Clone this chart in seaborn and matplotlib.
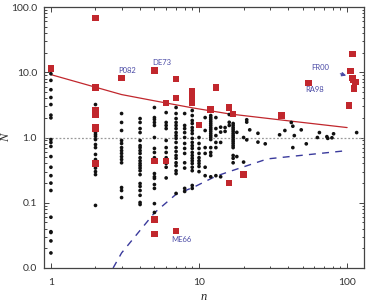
import numpy as np
import pandas as pd
import matplotlib
matplotlib.use("Agg")
import matplotlib.pyplot as plt
import seaborn as sns
from matplotlib.ticker import LogLocator, FuncFormatter, NullFormatter

# black dots, grouped by n
col_n = [1, 2, 3, 4, 5, 6, 7, 8, 9, 10, 11, 12, 13, 14, 15, 16, 17, 18, 20, 21,
         22, 25, 28, 35, 38, 42, 43, 44, 49, 53, 63, 65, 73, 74, 79, 81, 116]
col_z = [
    [9.5, 7.5, 5.4, 4.1, 3.2, 2.2, 2.0, 0.93, 0.84, 0.73, 0.51, 0.35, 0.26, 0.20,
     0.154, 0.060, 0.036, 0.035, 0.026, 0.017],
    [5.8, 3.2, 2.33, 1.19, 1.11, 1.04, 0.93, 0.78, 0.70, 0.55, 0.46, 0.34, 0.30,
     0.27, 0.091],
    [2.33, 1.70, 1.28, 0.90, 0.81, 0.70, 0.63, 0.57, 0.51, 0.46, 0.41, 0.171,
     0.154, 0.12],
    [1.95, 1.70, 1.37, 1.19, 0.90, 0.75, 0.70, 0.63, 0.57, 0.49, 0.44, 0.40, 0.37,
     0.34, 0.31, 0.27, 0.197, 0.178, 0.154, 0.13, 0.101, 0.094],
    [2.88, 2.02, 1.89, 1.70, 1.53, 1.0, 0.68, 0.59, 0.49, 0.28, 0.25, 0.236, 0.19,
     0.166, 0.097, 0.071],
    [2.41, 1.70, 1.53, 1.37, 0.90, 0.70, 0.59, 0.49, 0.40, 0.35, 0.24],
    [2.88, 2.33, 1.95, 1.70, 1.53, 1.37, 1.19, 1.07, 0.97, 0.84, 0.70, 0.61, 0.53,
     0.48, 0.41, 0.37, 0.31, 0.28, 0.139],
    [2.33, 1.53, 1.37, 1.19, 1.0, 0.81, 0.68, 0.57, 0.41, 0.34, 0.166, 0.149],
    [2.59, 2.17, 1.82, 1.64, 1.42, 1.28, 1.15, 0.97, 0.84, 0.75, 0.68, 0.59, 0.53,
     0.48, 0.44, 0.40, 0.35, 0.31, 0.184, 0.166],
    [1.0, 0.81, 0.68, 0.57, 0.49, 0.44, 0.40, 0.36, 0.30],
    [2.02, 1.28, 0.70, 0.57, 0.35, 0.26],
    [2.17, 2.02, 1.89, 1.76, 1.64, 1.53, 1.42, 1.33, 1.24, 1.15, 1.07, 1.0, 0.93,
     0.70, 0.59, 0.53, 0.25],
    [2.02, 1.37, 1.07, 0.84, 0.70, 0.26],
    [1.44, 1.21, 0.84, 0.25],
    [1.42, 1.24],
    [2.25, 1.71, 1.53],
    [1.64, 1.53, 1.42, 1.33, 1.24, 1.15, 1.07, 1.0, 0.93, 0.87, 0.81, 0.75, 0.70,
     0.53, 0.48, 0.41],
    [1.2, 0.51],
    [1.0, 0.42],
    [1.87, 1.72, 0.92],
    [1.31], [1.16, 0.85], [0.80], [1.1], [1.28], [1.70], [1.49, 0.70], [1.07],
    [1.31], [0.80], [1.0], [1.19], [1.03], [0.97], [0.99], [1.14], [1.19],
]

# red squares
sq_n = [1, 2, 2, 2, 2, 2, 2, 2, 3, 5, 5, 5, 5, 6, 6, 7, 7, 7, 9, 9, 9, 10, 12, 13,
        16, 16, 17, 20, 36, 55, 103, 105, 109, 109, 110, 111, 114]
sq_z = [11.4, 68, 5.8, 2.66, 2.23, 1.44, 1.36, 0.40, 8.2, 10.6, 0.44, 0.055, 0.033,
        3.4, 0.44, 7.9, 4.0, 0.037, 5.2, 4.1, 3.4, 1.56, 2.7, 5.8, 2.9, 0.20, 2.3,
        0.27, 2.17, 6.9, 3.1, 10.4, 19.1, 8.2, 7.7, 5.6, 7.1]

# upper (red) and lower (dashed blue) curves
hi_n = [1, 2, 3, 5, 9, 16, 42, 100]
hi_z = [9.2, 5.9, 4.55, 3.65, 2.85, 2.3, 1.78, 1.42]
lo_n = [2.63, 3.0, 5.0, 7.0, 9.2, 13, 16, 29, 100]
lo_z = [0.01, 0.017, 0.07, 0.135, 0.173, 0.255, 0.30, 0.47, 0.63]

# labels next to single squares
lab_text = ["P082", "DE73", "ME66", "RA98"]
lab_n = [3, 5, 7, 55]
lab_z = [8.2, 10.6, 0.037, 6.9]
lab_dx = [6, 7, 5, 6]
lab_dy = [7, 8, -9, -7]

red = "#c1272d"
blue = "#4a4aa6"

sns.set_style("ticks")
plt.rcParams["font.family"] = ["Lato", "DejaVu Sans"]

fig, ax = plt.subplots(figsize=(3.66, 3.02), dpi=100)
fig.subplots_adjust(left=0.120, right=0.9945, bottom=0.1126, top=0.9768)

dots = pd.DataFrame({"n": col_n, "z": col_z}).explode("z")
dots["z"] = dots["z"].astype(float)

ax.axhline(1.0, color="#999999", ls=(0, (1.5, 1.5)), lw=0.9, zorder=1)
sns.lineplot(x=hi_n, y=hi_z, color=red, lw=0.9, sort=False, estimator=None,
             ax=ax, zorder=2)
sns.lineplot(x=lo_n, y=lo_z, color="#3a3a9c", lw=1.0, sort=False, estimator=None,
             linestyle=(0, (5, 4.5)), ax=ax, zorder=2)
sns.scatterplot(data=dots, x="n", y="z", s=7, color="#111111", edgecolor="none",
                ax=ax, zorder=3)
sns.scatterplot(x=sq_n, y=sq_z, marker="s", s=22, color=red, edgecolor="none",
                ax=ax, zorder=4)

for t, xn, yz, dx, dy in zip(lab_text, lab_n, lab_z, lab_dx, lab_dy):
    ax.annotate(t, (xn, yz), xytext=(dx, dy), textcoords="offset pixels",
                ha="center", va="center", fontsize=5.5, color=blue)
ax.annotate("FR00", (98.5, 8.9), xytext=(-26, 8), textcoords="offset pixels",
            ha="center", va="center", fontsize=5.5, color=blue,
            arrowprops=dict(arrowstyle="-|>", color=blue, lw=0.8,
                            mutation_scale=6, shrinkA=6, shrinkB=0))

ax.set_xscale("log")
ax.set_yscale("log")
ax.set_xlim(0.897, 130)
ax.set_ylim(0.01, 100)
ax.xaxis.set_major_locator(LogLocator(base=10, numticks=10))
ax.yaxis.set_major_locator(LogLocator(base=10, numticks=10))
ax.xaxis.set_minor_locator(LogLocator(base=10, subs=np.arange(2, 10), numticks=20))
ax.yaxis.set_minor_locator(LogLocator(base=10, subs=np.arange(2, 10), numticks=20))
ax.xaxis.set_major_formatter(FuncFormatter(lambda v, p: f"{v:g}"))
ax.yaxis.set_major_formatter(FuncFormatter(lambda v, p: f"{v:.1f}"))
ax.xaxis.set_minor_formatter(NullFormatter())
ax.yaxis.set_minor_formatter(NullFormatter())

ax.tick_params(which="both", direction="in", top=True, right=True,
               colors="#444444", labelcolor="#333333", width=0.7)
ax.tick_params(which="major", length=3.5, labelsize=7.5)
ax.tick_params(which="minor", length=1.8)
ax.tick_params(axis="x", pad=7)
ax.tick_params(axis="y", pad=5)
for s in ax.spines.values():
    s.set_color("#444444")
    s.set_linewidth(0.9)

ax.set_xlabel("n", fontsize=9, fontstyle="italic", family="Liberation Serif",
              labelpad=3)
ax.set_ylabel("N", fontsize=9, fontstyle="italic", family="Liberation Serif")
ax.yaxis.set_label_coords(-0.098, 0.5)

fig.savefig("out.png", dpi=100)
